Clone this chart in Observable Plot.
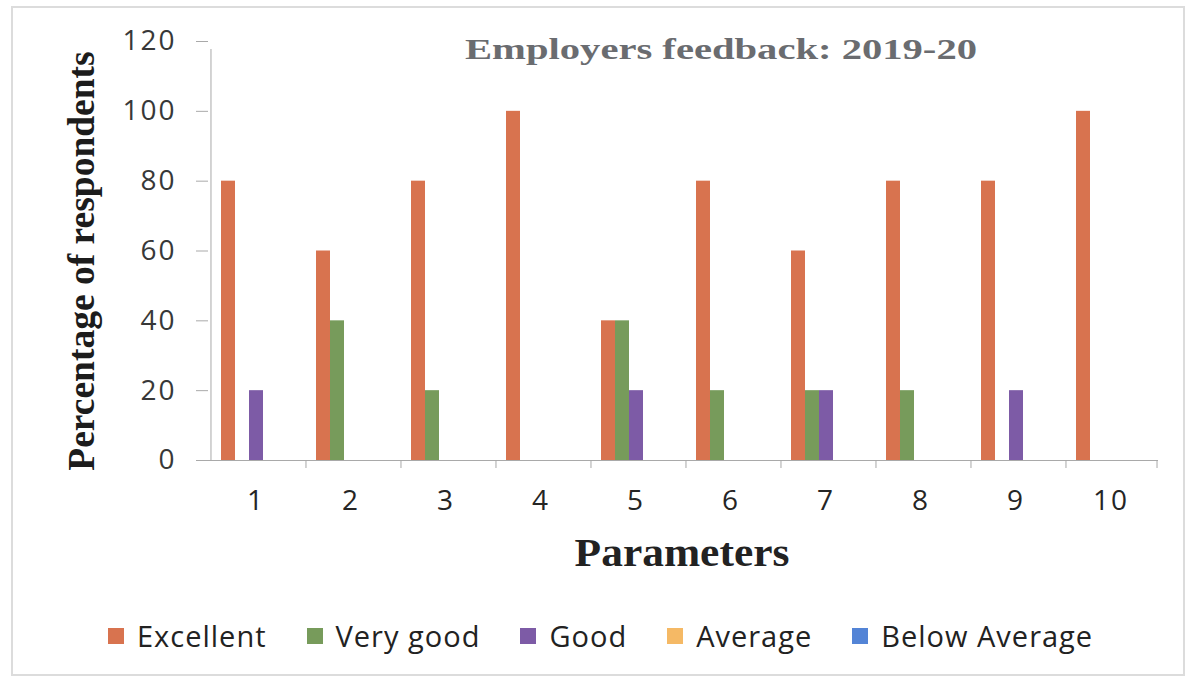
<!DOCTYPE html>
<html>
<head>
<meta charset="utf-8">
<script src="https://cdn.jsdelivr.net/npm/d3@7"></script>
<script src="https://cdn.jsdelivr.net/npm/@observablehq/plot@0.6"></script>
<style>
  html, body { margin: 0; padding: 0; background: #fff; }
  #wrap { position: relative; width: 1195px; height: 681px; overflow: hidden; background: #fff; }
  #border { position: absolute; left: 11px; top: 6px; width: 1174px; height: 670px; border: 2px solid #dcdcdc; box-sizing: border-box; }
  #chart { position: absolute; left: 0; top: 0; }
  .ovl { position: absolute; white-space: nowrap; line-height: 1; }
  #title { left: 721px; top: 33px; font: bold 29px "Liberation Serif", serif; color: #6a6c70; transform: translateX(-50%) scaleX(1.4); transform-origin: center; }
  #ylabel { left: 81px; top: 261px; font: bold 37.5px "Liberation Serif", serif; color: #1c1c1c; transform: translate(-50%, -50%) rotate(-90deg); }
  #xlabel { left: 682px; top: 528px; font: bold 41px "Liberation Serif", serif; color: #222; transform: translateX(-50%) scaleX(1.06); transform-origin: center; }
  #legend { position: absolute; left: 108px; top: 616px; }
  #legend .lg-swatches { font-family: "Open Sans", sans-serif !important; font-size: 29px !important; color: #222 !important; letter-spacing: 1px; margin: 0 !important; min-height: 0 !important; flex-wrap: nowrap !important; line-height: normal; }
  #legend .lg-swatch { margin-right: 40px !important; }
  #legend .lg-swatch > svg { margin-right: 13px !important; }
</style>
</head>
<body>
<div id="wrap">
  <div id="border"></div>
  <div id="chart"></div>
  <div id="title" class="ovl">Employers feedback: 2019-20</div>
  <div id="ylabel" class="ovl">Percentage of respondents</div>
  <div id="xlabel" class="ovl">Parameters</div>
  <div id="legend"></div>
</div>
<script>
// ---- data ----
const params = ["1", "2", "3", "4", "5", "6", "7", "8", "9", "10"];
const seriesNames = ["Excellent", "Very good", "Good", "Average", "Below Average"];
const excellent    = [80, 60, 80, 100, 40, 80, 60, 80, 80, 100];
const veryGood     = [0, 40, 20, 0, 40, 20, 20, 20, 0, 0];
const good         = [20, 0, 0, 0, 20, 0, 20, 0, 20, 0];
const average      = [0, 0, 0, 0, 0, 0, 0, 0, 0, 0];
const belowAverage = [0, 0, 0, 0, 0, 0, 0, 0, 0, 0];
const yTicks = [0, 20, 40, 60, 80, 100, 120];
const colors = ["#d8734f", "#779b5b", "#7d5ba6", "#f5b965", "#5384d6"];

// ---- table built from arrays ----
const seriesValues = [excellent, veryGood, good, average, belowAverage];
const rows = [];
params.forEach((p, i) => {
  seriesNames.forEach((s, k) => rows.push({param: p, series: s, value: seriesValues[k][i]}));
});

// ---- layout ----
const W = 1195, H = 600;
const mL = 207, mR = 37, mT = 41, mB = 140;
const po = 0.667; // outer padding of bars inside each group
const facetW = (W - mL - mR) / params.length;
const bw = facetW / (seriesNames.length + 2 * po);
const edge = bw / 2 + po * bw;
const axisStroke = "#a9a9a9";

const chart = Plot.plot({
  width: W,
  height: H,
  marginLeft: mL,
  marginRight: mR,
  marginTop: mT,
  marginBottom: mB,
  style: {fontFamily: "Open Sans, sans-serif", fontSize: "28px", letterSpacing: "2px", background: "transparent", overflow: "visible"},
  fx: {domain: params, paddingInner: 0, paddingOuter: 0, label: null},
  x: {domain: seriesNames, paddingInner: 0, paddingOuter: po, axis: null},
  y: {domain: [0, 120], axis: null},
  color: {domain: seriesNames, range: colors},
  marks: [
    Plot.barY(rows.filter(d => d.value > 0), {fx: "param", x: "series", y: "value", fill: "series"}),
    Plot.ruleY([0], {stroke: axisStroke}),
    // y axis line (left edge of first group)
    Plot.ruleX([params[0]], {fx: d => d, x: () => seriesNames[0], dx: -edge, y1: () => 0, y2: () => 120, insetBottom: -8, stroke: axisStroke}),
    // group boundary ticks
    Plot.ruleX(params.slice(1), {fx: d => d, x: () => seriesNames[0], dx: -edge, y1: () => 0, y2: () => 0, insetBottom: -8, stroke: axisStroke}),
    Plot.ruleX([params[params.length - 1]], {fx: d => d, x: () => seriesNames[seriesNames.length - 1], dx: edge, y1: () => 0, y2: () => 0, insetBottom: -8, stroke: axisStroke}),
    Plot.axisY({ticks: yTicks, tickSize: 12, tickPadding: 20, stroke: axisStroke, fill: "#383838", label: null}),
    Plot.axisFx({anchor: "bottom", tickSize: 0, tickPadding: 30, fill: "#252525", label: null})
  ]
});
document.getElementById("chart").appendChild(chart);

const legend = Plot.legend({
  color: {domain: seriesNames, range: colors},
  legend: "swatches",
  swatchSize: 16,
  className: "lg",
  style: {fontFamily: "Open Sans, sans-serif", fontSize: "29px", color: "#222"}
});
document.getElementById("legend").appendChild(legend);
</script>
</body>
</html>
